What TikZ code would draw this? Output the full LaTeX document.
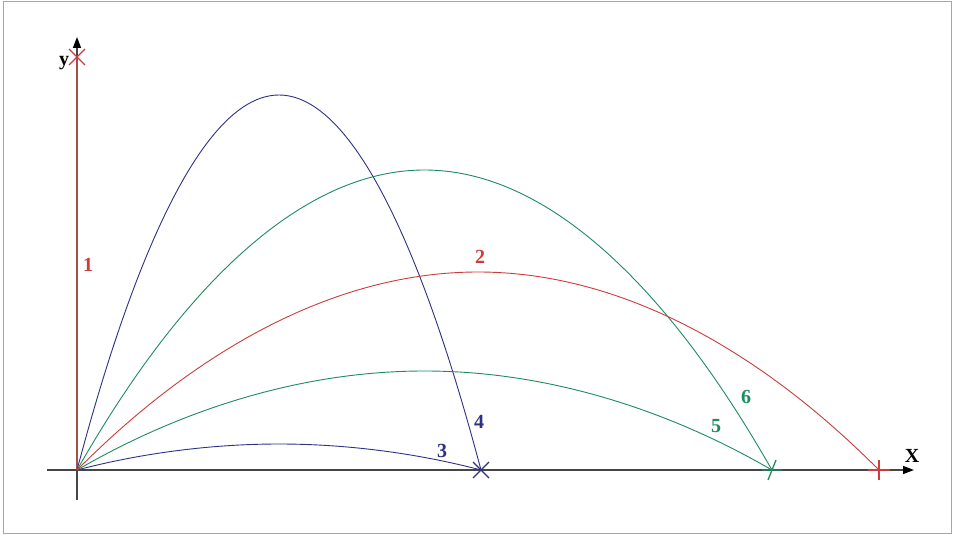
\documentclass[tikz,border=0pt]{standalone}
\usepackage{fontspec}
\setmainfont{Liberation Serif}
\usetikzlibrary{arrows.meta,calc}
\definecolor{cblue}{RGB}{45,50,130}
\definecolor{cgreen}{RGB}{30,140,95}
\definecolor{cred}{RGB}{205,60,60}
\definecolor{caxis}{RGB}{70,70,70}
\begin{document}
\begin{tikzpicture}[x=1pt,y=-1pt,
  axisline/.style={draw=caxis,line width=1.4pt},
  traj/.style={line width=0.9pt},
  lbl/.style={font=\fontsize{20}{20}\selectfont\bfseries,inner sep=0pt},
  mk/.style={line width=1.3pt}]
\useasboundingbox (0,0) rectangle (954,535);
\fill[white] (0,0) rectangle (954,535);
\draw[gray!70,line width=0.8pt] (3,1.5) rectangle (951,533);
% key points
\coordinate (O) at (77,470);
\coordinate (Xs) at (47,470);
\coordinate (Xe) at (914,470);
\coordinate (Ys) at (77,500);
\coordinate (Ye) at (77,37);
\coordinate (T1) at (77,57);
\coordinate (E34) at (481,470);
\coordinate (E56) at (772,470);
\coordinate (E2) at (879,470);
\coordinate (A4) at (279,95);
\coordinate (A3) at (279,444);
\coordinate (A6) at (424.5,170);
\coordinate (A5) at (424.5,371);
\coordinate (A2) at (478,272);
% axes
\draw[axisline,-{Triangle[length=11pt,width=8pt,color=black]}] (Xs) -- (Xe);
\draw[axisline,-{Triangle[length=11pt,width=8pt,color=black]}] (Ys) -- (Ye);
% trajectory 1 (vertical)
\draw[draw={rgb,255:red,165;green,80;blue,70},line width=1.2pt] (O) -- (T1);
% trajectories
\draw[traj,cblue] (O) parabola bend (A4) (E34);
\draw[traj,cblue] (O) parabola bend (A3) (E34);
\draw[traj,cgreen] (O) parabola bend (A6) (E56);
\draw[traj,cgreen] (O) parabola bend (A5) (E56);
\draw[traj,cred] (O) parabola bend (A2) (E2);
% end marks
\draw[mk,cred] ($(T1)+(-8,-8)$) -- ($(T1)+(8,8)$) ($(T1)+(-8,8)$) -- ($(T1)+(8,-8)$);
\draw[mk,cblue] ($(E34)+(-8,-8)$) -- ($(E34)+(8,8)$) ($(E34)+(-8,8)$) -- ($(E34)+(8,-8)$);
\draw[mk,cgreen] ($(E56)+(-4,10)$) -- ($(E56)+(4,-10)$) ($(E56)+(-10,0)$) -- ($(E56)+(10,0)$);
\draw[mk,cred] ($(E2)+(0,-10)$) -- ($(E2)+(0,10)$) ($(E2)+(-11,0)$) -- ($(E2)+(11,0)$);
% labels
\node[lbl,cred] (l1) at (88,265) {1};
\node[lbl,cred] (l2) at (480,257) {2};
\node[lbl,cblue] (l3) at (442,451) {3};
\node[lbl,cblue] (l4) at (479,422) {4};
\node[lbl,cgreen] (l5) at (716,426) {5};
\node[lbl,cgreen] (l6) at (746,397) {6};
\node[lbl] (ly) at (64,63) {y};
\node[lbl] (lx) at (912,456) {X};
\end{tikzpicture}
\end{document}
